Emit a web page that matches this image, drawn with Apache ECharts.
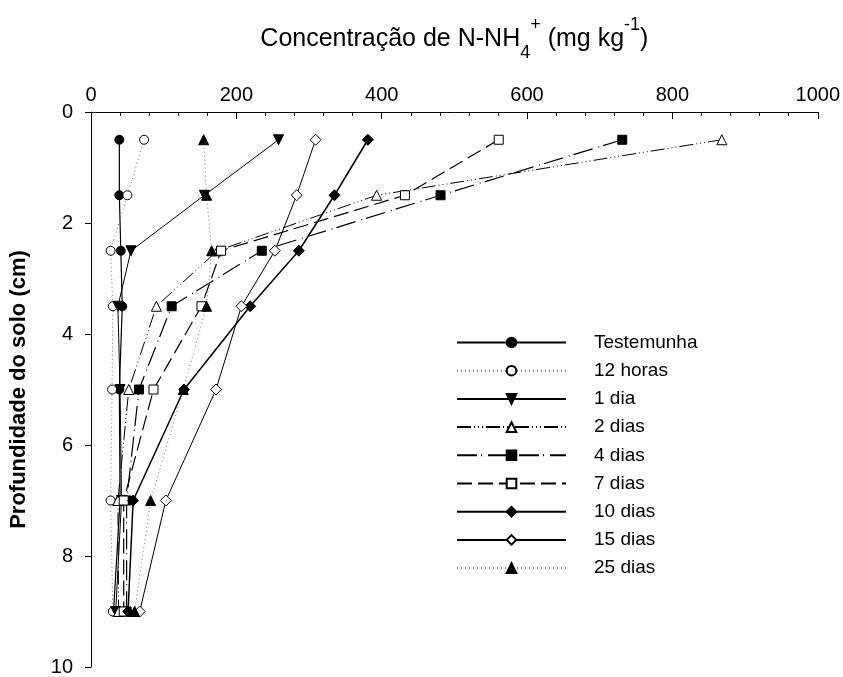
<!DOCTYPE html>
<html>
<head>
<meta charset="utf-8">
<script src="https://cdn.jsdelivr.net/npm/echarts@6/dist/echarts.min.js"></script>
<style>
  html, body { margin: 0; padding: 0; background: #fff; }
  #chart { width: 843px; height: 677px; }
</style>
</head>
<body>
<div id="chart"></div>
<script>
// Soil depth (cm) at which each sample was taken
const depths = [0.5, 1.5, 2.5, 3.5, 5, 7, 9];

// N-NH4+ concentration (mg kg-1) per treatment, one value per depth
const testemunha = [39, 39, 41, 43, 39, 40, 31];
const horas12    = [73, 50, 27, 30, 29, 27, 30];
const dia1       = [258, 156, 55, 37, 40, 42, 34];
const dias2      = [868, 393, 174, 90, 52, 37, 38];
const dias4      = [731, 481, 235, 111, 66, 49, 49];
const dias7      = [561, 432, 179, 152, 86, 45, 45];
const dias10     = [381, 335, 286, 219, 128, 58, 51];
const dias15     = [309, 283, 253, 207, 172, 103, 67];
const dias25     = [155, 159, 166, 159, 127, 82, 60];

const seriesNames = ['Testemunha', '12 horas', '1 dia', '2 dias', '4 dias', '7 dias', '10 dias', '15 dias', '25 dias'];
const xTicks = { min: 0, max: 1000, step: 200 };
const yTicks = { min: 0, max: 10, step: 2 };

const FONT = 'Arial, "Liberation Sans", sans-serif';

function pairs(values) {
  return values.map((v, i) => [v, depths[i]]);
}

function makeSeries(name, values, symbol, size, filled, line, extra) {
  return Object.assign({
    name: name,
    type: 'line',
    data: pairs(values),
    symbol: symbol,
    symbolSize: size,
    showSymbol: true,
    animation: false,
    itemStyle: {
      color: filled ? '#000' : '#fff',
      borderColor: '#000',
      borderWidth: 1,
      opacity: 1
    },
    lineStyle: Object.assign({ color: '#000', width: 1 }, line),
    emphasis: { disabled: true }
  }, extra || {});
}

const dotted = { color: '#707070', width: 1, type: [1, 3] };

const series = [
  makeSeries(seriesNames[0], testemunha, 'circle', 9, true, { width: 1.2 }),
  makeSeries(seriesNames[1], horas12, 'circle', 9, false, dotted),
  makeSeries(seriesNames[2], dia1, 'triangle', 10, true, {}, { symbolRotate: 180 }),
  makeSeries(seriesNames[3], dias2, 'triangle', 10, false, { type: [14, 3, 1, 3, 1, 3, 1, 3] }),
  makeSeries(seriesNames[4], dias4, 'rect', 9, true, { width: 1.2, type: [20, 4, 1, 6] }),
  makeSeries(seriesNames[5], dias7, 'rect', 9, false, { width: 1.2, type: [15, 6] }),
  makeSeries(seriesNames[6], dias10, 'diamond', 11, true, { width: 1.5 }, { z: 3 }),
  makeSeries(seriesNames[7], dias15, 'diamond', 11, false, {}),
  makeSeries(seriesNames[8], dias25, 'triangle', 10, true, dotted)
];

const chart = echarts.init(document.getElementById('chart'), null, { renderer: 'canvas' });

chart.setOption({
  backgroundColor: '#fff',
  animation: false,
  textStyle: { fontFamily: FONT, color: '#000' },
  grid: { left: 91, right: 23, top: 112, bottom: 7, containLabel: false },
  xAxis: {
    type: 'value',
    position: 'top',
    min: xTicks.min,
    max: xTicks.max,
    interval: xTicks.step,
    name: '{m|Concentração de N-NH}{sub|4}{sup|+}{m| (mg kg}{sup|-1}{m|)}',
    nameLocation: 'middle',
    nameGap: 50,
    nameTextStyle: {
      fontFamily: FONT,
      color: '#000',
      rich: {
        m: { fontSize: 25, fontFamily: FONT, color: '#000', lineHeight: 46, verticalAlign: 'middle' },
        sub: { fontSize: 18, fontFamily: FONT, color: '#000', verticalAlign: 'bottom' },
        sup: { fontSize: 18, fontFamily: FONT, color: '#000', verticalAlign: 'top' }
      }
    },
    axisLine: { show: true, lineStyle: { color: '#000', width: 1 } },
    axisTick: { show: true, inside: true, length: 7, lineStyle: { color: '#000', width: 1 } },
    minorTick: { show: true, splitNumber: 5, length: 4, lineStyle: { color: '#000', width: 1 } },
    splitLine: { show: false },
    minorSplitLine: { show: false },
    axisLabel: {
      fontSize: 20, fontFamily: FONT, color: '#000', margin: 7,
      formatter: (v) => String(v)
    }
  },
  yAxis: {
    type: 'value',
    inverse: true,
    min: yTicks.min,
    max: yTicks.max,
    interval: yTicks.step,
    name: 'Profundidade do solo (cm)',
    nameLocation: 'middle',
    nameRotate: 90,
    nameGap: 61,
    nameTextStyle: { fontSize: 22, fontWeight: 'bold', fontFamily: FONT, color: '#000' },
    axisLine: { show: true, lineStyle: { color: '#000', width: 1 } },
    axisTick: { show: true, inside: false, length: 6, lineStyle: { color: '#000', width: 1 } },
    splitLine: { show: false },
    axisLabel: {
      fontSize: 20, fontFamily: FONT, color: '#000', margin: 18,
      formatter: (v) => String(v)
    }
  },
  legend: {
    orient: 'vertical',
    left: 456,
    top: 333,
    padding: 0,
    itemWidth: 109,
    itemHeight: 12,
    itemGap: 9.2,
    selectedMode: false,
    data: seriesNames,
    textStyle: { fontSize: 19, lineHeight: 18, fontFamily: FONT, color: '#000', padding: [0, 0, 0, 23] }
  },
  series: series
});
</script>
</body>
</html>
